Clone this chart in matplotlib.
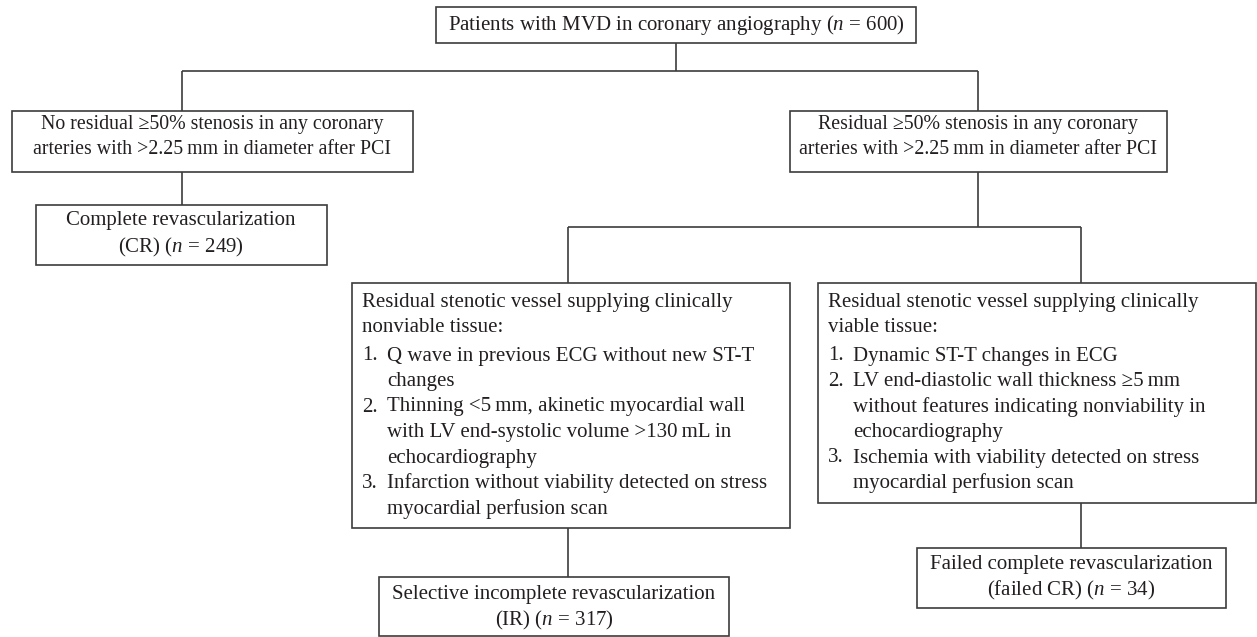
import matplotlib.pyplot as plt
from matplotlib.patches import Rectangle

plt.rcParams['font.family'] = ['Liberation Serif', 'DejaVu Serif']
plt.rcParams['mathtext.fontset'] = 'custom'
plt.rcParams['mathtext.rm'] = 'Liberation Serif'
plt.rcParams['mathtext.it'] = 'Liberation Serif:italic'

# patient counts
n_total = 600
n_cr = 249
n_ir = 317
n_failed = 34

TS = '\u2009'  # thin space between number and unit

# box texts
top_text = 'Patients with MVD in coronary angiography ($n$ = %d)' % n_total
left_text = ['No residual \u226550% stenosis in any coronary',
             'arteries with >2.25' + TS + 'mm in diameter after PCI']
right_text = ['Residual \u226550% stenosis in any coronary',
              'arteries with >2.25' + TS + 'mm in diameter after PCI']
cr_text = ['Complete revascularization', '(CR) ($n$ = %d)' % n_cr]
ir_text = ['Selective incomplete revascularization', '(IR) ($n$ = %d)' % n_ir]
failed_text = ['Failed complete revascularization', '(failed CR) ($n$ = %d)' % n_failed]

nonviable_head = ['Residual stenotic vessel supplying clinically', 'nonviable tissue:']
nonviable_items = [['Q wave in previous ECG without new ST-T', 'changes'],
                   ['Thinning <5' + TS + 'mm, akinetic myocardial wall',
                    'with LV end-systolic volume >130' + TS + 'mL in', 'echocardiography'],
                   ['Infarction without viability detected on stress',
                    'myocardial perfusion scan']]
viable_head = ['Residual stenotic vessel supplying clinically', 'viable tissue:']
viable_items = [['Dynamic ST-T changes in ECG'],
                ['LV end-diastolic wall thickness \u22655' + TS + 'mm',
                 'without features indicating nonviability in', 'echocardiography'],
                ['Ischemia with viability detected on stress',
                 'myocardial perfusion scan']]

FS = 15
LC = '#3c3c3c'
TC = '#231f20'
LH = 25.5

fig = plt.figure(figsize=(12.57, 6.37), dpi=100)
ax = fig.add_axes([0, 0, 1, 1])
ax.set_xlim(0, 1257)
ax.set_ylim(637, 0)
ax.axis('off')


def box(x0, y0, x1, y1):
    ax.add_patch(Rectangle((x0, y0), x1 - x0, y1 - y0, fill=False, ec=LC, lw=1.2))


def line(xs, ys):
    ax.plot(xs, ys, color=LC, lw=1.2, solid_capstyle='butt')


def centered(lines, xc, y0, lh=26, fs=FS):
    for i, t in enumerate(lines):
        ax.text(xc, y0 + i * lh, t, fontsize=fs, ha='center', va='center', color=TC)


def listbox(x0, y0, head, items):
    y = y0
    for t in head:
        ax.text(x0 + 10, y, t, fontsize=FS, ha='left', va='center', color=TC)
        y += LH
    y += 3
    for k, item in enumerate(items):
        ax.text(x0 + 10, y, '%d.' % (k + 1), fontsize=FS, ha='left', va='center', color=TC)
        for t in item:
            ax.text(x0 + 35, y, t, fontsize=FS, ha='left', va='center', color=TC)
            y += LH


# boxes
box(436, 7, 916, 43)
ax.text(676, 25, top_text, fontsize=FS, ha='center', va='center', color=TC)

box(12, 111, 413, 172)
centered(left_text, 212, 124, 25, 14.3)
box(790, 111, 1167, 172)
centered(right_text, 978, 124, 25, 14.3)

box(36, 205, 327, 265)
centered(cr_text, 181, 221)

box(352, 283, 790, 528)
listbox(352, 302, nonviable_head, nonviable_items)
box(818, 283, 1256, 503)
listbox(818, 302, viable_head, viable_items)

box(379, 577, 729, 636)
centered(ir_text, 554, 594)
box(917, 548, 1226, 608)
centered(failed_text, 1071, 564)

# connectors
line([676, 676], [43, 71])
line([182, 978], [71, 71])
line([182, 182], [71, 111])
line([978, 978], [71, 111])
line([182, 182], [172, 205])
line([978, 978], [172, 227])
line([568, 1081], [227, 227])
line([568, 568], [227, 283])
line([1081, 1081], [227, 283])
line([568, 568], [528, 577])
line([1081, 1081], [503, 548])

fig.savefig('out.png', dpi=100)
